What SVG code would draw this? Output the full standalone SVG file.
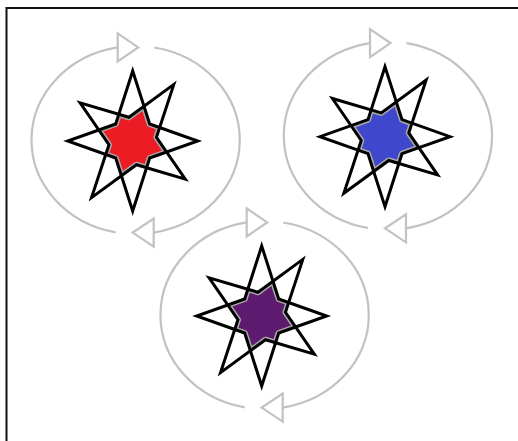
<svg xmlns="http://www.w3.org/2000/svg" xmlns:xlink="http://www.w3.org/1999/xlink" width="518" height="441" viewBox="0 0 518 441">
  <style>
    .frame { fill: none; stroke: #111; stroke-width: 2; }
    .orbit { fill: none; stroke: #c2c2c2; stroke-width: 2.2; }
    .ah { fill: #fff; stroke: #c2c2c2; stroke-width: 2.2; stroke-linejoin: miter; }
    .star { fill: none; stroke: #000; stroke-width: 3; stroke-linejoin: miter; stroke-miterlimit: 10; }
    .halo { stroke: #a9a9a9; stroke-width: 6; stroke-linejoin: round; }
    .haloline { fill: none; stroke: #a9a9a9; stroke-width: 6; stroke-linejoin: round; }
  </style>
  <defs>
    <polygon id="sA" points="0,-70 17,-17 65,0 17,17 0,70 -17,17 -65,0 -17,-17"/>
    <polygon id="sB" points="0,-70 17,-17 65,0 17,17 0,70 -17,17 -65,0 -17,-17" transform="rotate(36)"/>
    <clipPath id="cA"><use xlink:href="#sA" href="#sA"/></clipPath>
    <clipPath id="cB"><use xlink:href="#sB" href="#sB"/></clipPath>
    <marker id="aR" markerUnits="userSpaceOnUse" viewBox="-3 -17 27 34" refX="0" refY="0" markerWidth="27" markerHeight="34" orient="0">
      <path class="ah" d="M0,-14 L20.5,0 L0,14 Z"/>
    </marker>
    <marker id="aL" markerUnits="userSpaceOnUse" viewBox="-3 -17 27 34" refX="0" refY="0" markerWidth="27" markerHeight="34" orient="180">
      <path class="ah" d="M0,-14 L21,0 L0,14 Z"/>
    </marker>
  </defs>

  <rect class="frame" x="6.5" y="8" width="600" height="500"/>

  <g id="connectors">
    <g transform="translate(132.7,141)">
      <path class="orbit" d="M21.5,-93.5 A104,94 0 0 1 21,91.6" marker-end="url(#aL)"/>
      <path class="orbit" d="M-17,91.3 A104,94 0 0 1 -15,-93.6" marker-end="url(#aR)"/>
    </g>
    <g transform="translate(385,136.7)">
      <path class="orbit" d="M21.5,-93.5 A104,94 0 0 1 21,91.6" marker-end="url(#aL)"/>
      <path class="orbit" d="M-17,91.3 A104,94 0 0 1 -15,-93.6" marker-end="url(#aR)"/>
    </g>
    <g transform="translate(261.7,316)">
      <path class="orbit" d="M21.5,-93.5 A104,94 0 0 1 21,91.6" marker-end="url(#aL)"/>
      <path class="orbit" d="M-17,91.3 A104,94 0 0 1 -15,-93.6" marker-end="url(#aR)"/>
    </g>
  </g>

  <g id="node-red" transform="translate(132.7,141)">
    <g clip-path="url(#cA)"><g clip-path="url(#cB)">
      <use xlink:href="#sA" href="#sA" class="halo" fill="#ed1c24"/>
      <use xlink:href="#sB" href="#sB" class="haloline"/>
    </g></g>
    <use xlink:href="#sA" href="#sA" class="star"/>
    <use xlink:href="#sB" href="#sB" class="star"/>
  </g>

  <g id="node-blue" transform="translate(385,136.7)">
    <g clip-path="url(#cA)"><g clip-path="url(#cB)">
      <use xlink:href="#sA" href="#sA" class="halo" fill="#3f48cc"/>
      <use xlink:href="#sB" href="#sB" class="haloline"/>
    </g></g>
    <use xlink:href="#sA" href="#sA" class="star"/>
    <use xlink:href="#sB" href="#sB" class="star"/>
  </g>

  <g id="node-purple" transform="translate(261.7,316)">
    <g clip-path="url(#cA)"><g clip-path="url(#cB)">
      <use xlink:href="#sA" href="#sA" class="halo" fill="#5e1a6e"/>
      <use xlink:href="#sB" href="#sB" class="haloline"/>
    </g></g>
    <use xlink:href="#sA" href="#sA" class="star"/>
    <use xlink:href="#sB" href="#sB" class="star"/>
  </g>
</svg>
